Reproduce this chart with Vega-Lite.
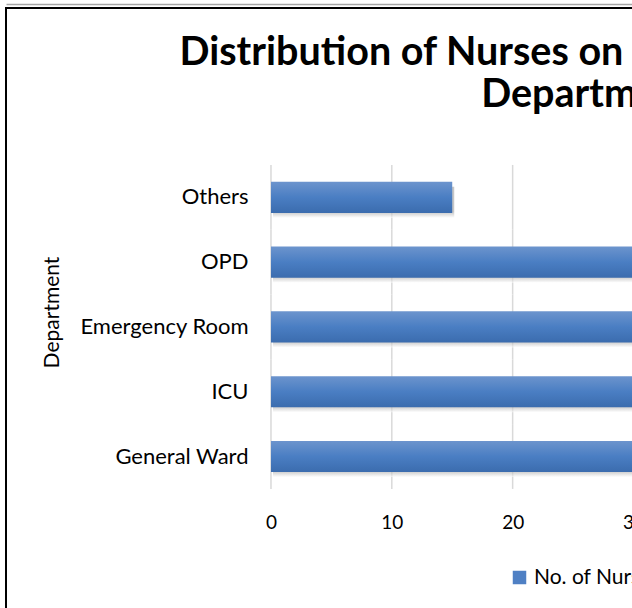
{
  "$schema": "https://vega.github.io/schema/vega-lite/v6.json",
  "autosize": {"type": "none"},
  "width": 1000,
  "height": 610,
  "padding": {"left": 6, "top": 8, "right": 0, "bottom": 0},
  "background": "white",
  "config": {"view": {"stroke": "black", "strokeWidth": 2}, "font": "Lato"},
  "title": {
    "text": ["Distribution of Nurses on the Basis of Working", "Department"],
    "font": "Lato",
    "fontSize": 39.5,
    "fontWeight": "bold",
    "color": "black",
    "anchor": "middle",
    "frame": "group",
    "lineHeight": 42,
    "offset": 48,
    "dy": 159,
    "dx": 82
  },
  "data": {
    "values": [
      {"department": "General Ward", "nurses": 55, "series": "No. of Nurses"},
      {"department": "ICU", "nurses": 40, "series": "No. of Nurses"},
      {"department": "Emergency Room", "nurses": 45, "series": "No. of Nurses"},
      {"department": "OPD", "nurses": 45, "series": "No. of Nurses"},
      {"department": "Others", "nurses": 15, "series": "No. of Nurses"}
    ]
  },
  "resolve": {"axis": {"x": "independent"}},
  "layer": [
    {
      "encoding": {
        "y": {
          "field": "department",
          "type": "nominal",
          "scale": {
            "domain": ["pad1", "pad2", "Others", "OPD", "Emergency Room", "ICU", "General Ward", "pad3", "pad4"],
            "paddingInner": 0.52,
            "paddingOuter": 0.467,
            "align": 0.73
          },
          "axis": {
            "title": "Department",
            "values": ["Others", "OPD", "Emergency Room", "ICU", "General Ward"],
            "offset": -265,
            "titleFont": "Lato",
            "titleFontSize": 21,
            "titleFontWeight": "normal",
            "titleColor": "black",
            "titleX": -213,
            "titleY": 304,
            "titleBaseline": "alphabetic",
            "labelFont": "Lato",
            "labelFontSize": 22,
            "labelColor": "black",
            "labelPadding": 23,
            "ticks": false,
            "tickSize": 0,
            "domain": false,
            "grid": false
          }
        },
        "x": {
          "field": "nurses",
          "type": "quantitative",
          "scale": {"domain": [-21.93, 60.83], "nice": false, "zero": false},
          "axis": {
            "title": null,
            "offset": -129,
            "values": [0, 10, 20, 30, 40, 50, 60],
            "grid": false,
            "domain": false,
            "ticks": false,
            "tickSize": 0,
            "labelFont": "Lato",
            "labelFontSize": 19,
            "labelColor": "black",
            "labelPadding": 39,
            "labelBaseline": "alphabetic"
          }
        }
      },
      "layer": [
        {"mark": {"type": "tick", "orient": "vertical", "size": 64.8, "thickness": 1.5, "color": "#d9d9d9", "opacity": 1}, "encoding": {"x": {"datum": 0}}},
        {"mark": {"type": "tick", "orient": "vertical", "size": 64.8, "thickness": 1.5, "color": "#d9d9d9", "opacity": 1}, "encoding": {"x": {"datum": 10}}},
        {"mark": {"type": "tick", "orient": "vertical", "size": 64.8, "thickness": 1.5, "color": "#d9d9d9", "opacity": 1}, "encoding": {"x": {"datum": 20}}},
        {"mark": {"type": "tick", "orient": "vertical", "size": 64.8, "thickness": 1.5, "color": "#d9d9d9", "opacity": 1}, "encoding": {"x": {"datum": 30}}},
        {"mark": {"type": "tick", "orient": "vertical", "size": 64.8, "thickness": 1.5, "color": "#d9d9d9", "opacity": 1}, "encoding": {"x": {"datum": 40}}},
        {"mark": {"type": "tick", "orient": "vertical", "size": 64.8, "thickness": 1.5, "color": "#d9d9d9", "opacity": 1}, "encoding": {"x": {"datum": 50}}},
        {"mark": {"type": "tick", "orient": "vertical", "size": 64.8, "thickness": 1.5, "color": "#d9d9d9", "opacity": 1}, "encoding": {"x": {"datum": 60}}},
        {
          "mark": {
            "type": "bar",
            "yOffset": 5,
            "xOffset": 2,
            "fill": {
              "gradient": "linear",
              "x1": 0, "y1": 0, "x2": 0, "y2": 1,
              "stops": [
                {"offset": 0, "color": "#a0a0a0"},
                {"offset": 0.8, "color": "#a0a0a0"},
                {"offset": 1, "color": "#ffffff"}
              ]
            },
            "opacity": 0.6
          }
        },
        {
          "mark": {
            "type": "bar",
            "fill": {
              "gradient": "linear",
              "x1": 0, "y1": 0, "x2": 0, "y2": 1,
              "stops": [
                {"offset": 0, "color": "#6c94cd"},
                {"offset": 0.5, "color": "#4a7ec3"},
                {"offset": 1, "color": "#3b6cae"}
              ]
            }
          }
        }
      ]
    },
    {
      "mark": {"type": "bar", "opacity": 0},
      "encoding": {
        "y": {"field": "department", "type": "nominal"},
        "x": {
          "field": "nurses",
          "type": "quantitative",
          "axis": {
            "orient": "top",
            "offset": 4,
            "title": null,
            "labels": false,
            "ticks": false,
            "grid": false,
            "domain": true,
            "domainColor": "#a6a6a6",
            "domainWidth": 1.5
          }
        },
        "color": {
          "field": "series",
          "type": "nominal",
          "scale": {"range": ["#4f80c4"]},
          "legend": {
            "orient": "none",
            "legendX": 503,
            "legendY": 559,
            "title": null,
            "padding": 0,
            "symbolType": "square",
            "symbolSize": 182,
            "symbolStrokeWidth": 0,
            "symbolOpacity": 1,
            "labelFont": "Lato",
            "labelFontSize": 21,
            "labelColor": "black",
            "labelOffset": 4
          }
        }
      }
    }
  ]
}
